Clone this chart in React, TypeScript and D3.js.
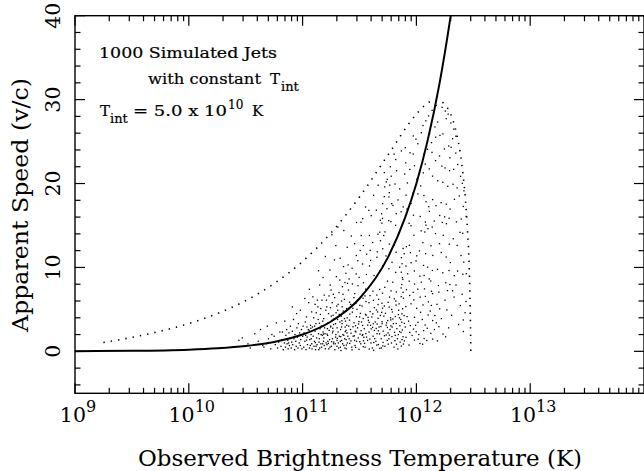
import React from "react";
import * as d3 from "d3";

const W = 644;
const H = 471;
const PLOT = { left: 75, right: 644, top: 15.7, bottom: 393.3 };

// axis definitions
const xDomain: [number, number] = [1e9, 1e14];
const yDomain: [number, number] = [-5, 40];
const xTickExponents = [9, 10, 11, 12, 13];
const yTickValues = [0, 10, 20, 30, 40];
const xLabel = "Observed Brightness Temperature (K)";
const yLabel = "Apparent Speed (v/c)";

// solid curve: [log10 T (K), apparent speed]
const curveLogT = [9.0, 9.5, 10.0, 10.25, 10.5, 10.75, 11.0, 11.25, 11.5, 11.75, 11.9, 12.0, 12.1, 12.2, 12.3, 12.33];
const curveSpeed = [0.02, 0.06, 0.2, 0.36, 0.63, 1.12, 2.0, 3.56, 6.3, 11.2, 15.9, 20.0, 25.2, 31.7, 39.9, 42.7];

// dotted envelope: [log10 T (K), apparent speed]
const envelopeLogT = [9.25, 9.5, 9.75, 10.0, 10.25, 10.5, 10.75, 11.0, 11.25, 11.5, 11.75, 12.0, 12.1, 12.15, 12.2, 12.25, 12.3, 12.35, 12.4, 12.43, 12.45, 12.465, 12.475, 12.478];
const envelopeSpeed = [1.06, 1.67, 2.4, 3.31, 4.49, 6.04, 8.08, 10.72, 14.13, 18.4, 23.4, 28.27, 29.6, 29.9, 29.9, 29.4, 28.3, 26.1, 22.2, 18.2, 14.2, 9.6, 3.3, 0];

// simulated jets: [log10 T (K), apparent speed]
const jets: [number, number][] = [
  [10.44,1.3],[10.47,1.6],[10.52,0.9],[10.54,0.4],[10.58,2.1],[10.61,1.2],[10.63,2.6],[10.65,0.7],[10.66,0.5],[10.68,0.9],[10.69,3.0],[10.70,1.5],[10.72,0.3],[10.73,2.0],[10.75,1.8],[10.76,0.8],[10.77,3.4],[10.78,0.4],[10.79,1.1],[10.80,2.3],
  [10.81,0.6],[10.82,1.4],[10.823,2.3],[10.83,0.2],[10.84,1.0],[10.843,3.6],[10.85,0.5],[10.853,1.9],[10.86,2.6],[10.864,0.9],[10.87,1.3],[10.873,0.3],[10.88,2.2],[10.884,0.7],[10.89,1.6],[10.893,3.0],[10.90,0.4],[10.904,1.1],[10.91,2.4],[10.913,0.8],[10.92,3.8],[10.924,1.5],[10.93,0.2],[10.933,2.0],[10.94,1.2],[10.944,0.6],[10.95,2.8],[10.954,1.7],[10.96,0.4],[10.963,3.3],[10.97,1.0],[10.974,2.2],[10.98,0.7],[10.983,1.4],[10.99,2.6],[10.994,0.3],[11.00,1.8],[11.004,3.0],[10.947,4.5],[10.877,1.0],
  [11.01,0.5],[11.013,2.2],[11.02,1.2],[11.024,3.5],[11.03,0.2],[11.034,4.1],[11.04,1.7],[11.043,0.8],[11.05,2.6],[11.054,5.8],[11.06,0.4],[11.063,1.4],[11.07,3.1],[11.074,2.0],[11.08,0.9],[11.083,0.3],[11.09,6.5],[11.093,1.8],[11.087,2.9],[11.10,0.6],[11.104,1.2],[11.097,4.0],[11.11,2.4],[11.114,0.2],[11.12,4.6],[11.123,1.6],[11.117,3.3],[11.13,6.1],[11.134,5.3],[11.127,0.8],[11.14,2.1],[11.144,1.1],[11.137,3.8],[11.15,0.4],[11.153,2.7],[11.147,1.5],[11.16,0.9],[11.164,3.0],[11.157,4.4],[11.17,6.1],[11.173,1.9],[11.167,0.5],[11.18,2.3],[11.184,1.2],[11.177,3.6],[11.19,0.7],[11.193,2.8],[11.187,1.6],[11.20,0.3],[11.204,4.9],[11.197,2.1],[11.21,6.1],[11.213,5.3],[11.207,1.0],[11.106,3.0],[11.057,2.5],[11.027,1.9],[11.077,1.5],[11.118,0.6],[11.162,2.0],[11.186,3.9],[11.142,0.2],[11.038,2.9],[11.068,0.7],[11.176,0.9],
  [11.214,0.8],[11.22,1.9],[11.224,3.4],[11.23,0.3],[11.233,2.5],[11.24,9.7],[11.243,7.9],[11.237,1.4],[11.25,7.3],[11.254,0.6],[11.247,3.0],[11.26,5.8],[11.263,2.2],[11.257,13.9],[11.27,6.8],[11.274,1.1],[11.267,2.4],[11.28,10.9],[11.283,0.2],[11.277,3.9],[11.29,1.7],[11.294,4.6],[11.287,0.9],[11.30,5.4],[11.303,2.8],[11.297,8.9],[11.31,14.8],[11.314,1.0],[11.307,3.8],[11.32,7.0],[11.323,1.8],[11.317,0.4],[11.33,11.1],[11.334,2.6],[11.327,8.5],[11.34,4.2],[11.343,1.3],[11.337,0.1],[11.35,7.7],[11.354,2.0],[11.347,3.3],[11.36,10.1],[11.363,0.7],[11.357,4.8],[11.37,1.5],[11.374,2.9],[11.367,6.2],[11.38,9.3],[11.383,0.3],[11.377,3.6],[11.39,2.2],[11.394,1.0],[11.387,5.1],[11.40,10.3],[11.403,7.3],[11.397,1.8],[11.405,3.0],[11.222,1.2],[11.228,4.5],[11.241,0.5],[11.262,1.5],[11.272,3.2],[11.292,2.0],[11.302,0.6],[11.312,2.3],[11.322,4.4],[11.332,1.2],[11.342,2.9],[11.352,0.9],[11.362,1.9],[11.372,0.4],[11.382,2.5],[11.392,4.0],[11.252,4.2],[11.282,6.4],[11.312,5.6],[11.342,6.0],[11.372,8.2],[11.392,12.4],[11.292,12.6],[11.362,14.4],[11.232,6.6],[11.332,0.5],[11.272,0.9],[11.302,1.3],[11.382,1.4],
  [11.683,15.62],[11.702,15.84],[11.757,15.58],[11.823,16.41],[11.866,16.63],[11.794,17.38],[11.838,18.04],[11.884,17.21],[11.917,16.96],[11.953,17.62],[11.968,18.83],[12.013,18.76],[12.066,18.57],[12.085,17.83],[12.108,17.24],[12.143,18.08],[12.172,17.36],[12.217,17.72],[12.263,17.54],[12.296,16.95],[12.334,18.12],[12.377,18.52],[12.412,17.27],[12.437,16.08],[12.394,15.77],[12.352,15.43],[12.287,15.86],[12.248,16.03],[12.205,16.19],[12.157,15.53],[12.079,15.41],[12.034,16.07],[11.974,16.22],[12.114,16.68],[11.936,15.26],[11.909,18.61],[11.853,19.36],[11.812,19.94],[11.779,20.87],[11.826,21.52],[11.897,21.13],[11.942,21.68],[11.983,22.12],[11.906,22.47],[11.944,23.66],[11.972,23.51],[11.902,24.27],[11.868,23.88],[11.818,22.86],[12.012,24.74],[11.996,25.28],[11.973,25.67],[12.043,26.06],[12.058,26.91],[12.083,27.47],[12.107,28.06],[12.138,28.72],[12.174,29.31],[12.226,29.08],[12.254,28.64],[12.279,28.27],[12.262,27.73],[12.303,27.22],[12.328,26.48],[12.347,25.63],[12.318,25.34],[12.284,24.47],[12.246,24.12],[12.203,23.29],[12.168,22.73],[12.224,22.08],[12.252,21.86],[12.291,21.53],[12.327,21.69],[12.363,22.27],[12.388,20.86],[12.418,19.13],[12.404,20.02],[12.358,19.48],[12.322,19.91],[12.276,19.67],[12.232,20.14],[12.187,20.33],[12.142,20.88],[12.113,21.74],[12.078,22.31],[12.061,21.27],[12.069,23.56],[12.097,24.08],[12.133,24.87],[12.169,25.52],[12.207,25.73],[12.233,25.91],[12.163,26.74],[12.186,27.33],[12.116,25.94],[12.137,23.71],[12.294,23.07],[12.346,23.63],[12.305,24.31],[11.921,20.07],[12.038,19.71],[12.004,20.52],[11.762,18.91],[11.718,18.44],[11.648,16.82],[11.603,16.17],[11.528,15.81],[11.474,15.36],
  [11.513,15.38],[11.697,15.27],[11.776,15.46],[11.817,15.02],[11.724,14.23],[11.843,14.02],[11.587,13.81],[11.662,13.96],[11.684,13.18],[11.457,12.83],[11.534,12.61],[11.616,12.97],[11.763,12.78],[11.807,12.66],[11.428,13.74],[11.472,11.42],[11.506,12.02],[11.563,11.58],[11.598,10.84],[11.653,11.21],[11.594,12.03],[11.657,11.86],[11.704,12.23],[11.733,11.37],[11.822,11.81],[11.868,11.16],[11.786,10.62],[11.853,10.03],[11.758,9.84],[11.818,9.41],[11.877,8.78],[11.872,7.96],[11.792,8.24],[11.746,8.37],[11.722,7.63],[11.777,7.21],[11.824,7.08],[11.867,6.52],[11.764,6.47],[11.702,6.93],[11.677,7.38],[11.652,6.71],[11.618,7.17],[11.592,6.64],[11.557,5.93],[11.531,6.33],[11.503,5.48],[11.468,5.71],[11.442,5.12],[11.413,5.86],[11.409,8.62],[11.438,8.03],[11.471,9.22],[11.497,8.81],[11.535,8.17],[11.561,9.16],[11.458,6.88],[11.487,7.82],[11.554,7.42],[11.604,7.97],[11.628,9.04],[11.681,9.58],[11.706,10.22],[11.588,10.18],[11.527,10.41],
  [11.412,3.72],[11.437,4.67],[11.473,4.13],[11.508,4.52],[11.532,3.91],[11.558,4.31],[11.593,4.74],[11.617,4.46],[11.649,4.93],[11.683,4.28],[11.703,5.14],[11.728,4.53],[11.761,5.27],[11.789,4.69],[11.821,5.52],[11.848,5.66],[11.879,5.08],[11.842,4.37],[11.793,3.86],[11.748,3.67],[11.698,3.53],[11.663,3.94],[11.621,3.28],[11.572,3.13],[11.527,3.08],[11.492,3.26],[11.443,2.93],[11.426,2.16],[11.469,2.31],[11.514,2.47],[11.556,2.12],[11.602,2.68],[11.647,2.73],[11.688,2.96],[11.734,3.11],[11.776,3.04],[11.823,3.32],[11.871,3.47],[11.852,2.36],[11.808,2.27],[11.763,1.93],[11.719,1.86],[11.676,2.07],[11.633,1.52],[11.591,1.46],[11.538,1.68],[11.502,1.14],[11.457,1.33],[11.414,0.94],[11.466,0.47],[11.533,0.56],[11.586,0.27],[11.652,0.74],[11.707,1.06],[11.753,0.86],[11.812,1.27],[11.868,0.63],[11.883,1.74],[11.624,0.13],[11.434,0.18],[11.496,0.24],[11.678,0.36],[11.837,0.28],[11.883,7.04],[11.892,4.26],[11.752,5.84],[11.697,5.73],[11.663,5.58],[11.622,6.08],[11.806,6.26],
  [11.953,14.96],[12.084,15.04],[12.102,14.62],[12.139,14.81],[12.228,15.36],[12.264,15.21],[12.383,14.18],[12.407,14.07],[12.236,13.83],[12.168,14.03],[12.042,14.36],[12.074,14.22],[11.978,13.84],[11.938,12.64],[12.057,12.96],[12.128,12.58],[12.203,12.83],[12.289,12.77],[12.324,13.42],[12.358,12.62],[11.883,12.26],[11.912,12.47],[11.893,11.63],[11.948,11.76],[12.003,11.38],[12.027,11.97],[12.081,11.64],[12.144,11.43],[12.218,11.78],[12.262,11.24],[12.298,10.58],[12.392,11.42],[12.416,10.63],[11.874,10.44],[11.908,10.16],[11.954,10.56],[11.997,10.78],[12.063,10.24],[12.098,10.03],[12.141,9.64],[12.186,9.77],[12.232,9.36],[12.287,9.63],[12.333,9.02],[12.362,9.57],[12.408,9.18],[12.438,9.26],[11.868,9.43],[11.923,9.24],[11.982,9.58],[12.031,8.96],[12.068,9.04],[12.113,8.63],[11.881,8.57],[11.937,8.36],[11.984,8.02],[12.043,8.24],[12.126,8.38],[12.193,7.84],[12.258,8.17],[12.294,7.96],[12.318,7.22],[11.866,7.56],[11.913,7.36],[11.972,7.03],[12.012,7.41],[12.071,7.44],[12.133,7.16],[12.197,7.06],[12.273,7.24],[12.331,6.47],[12.386,5.46],[12.436,5.94],[11.886,6.33],[11.941,6.66],[11.977,6.13],[12.033,6.46],[12.079,6.54],[12.142,6.87],[11.907,5.34],[11.953,5.67],[12.002,5.13],[12.058,5.53],[12.131,5.47],[12.204,5.06],[12.268,4.94],[11.873,4.47],[11.918,4.14],[11.983,4.06],[12.037,4.66],[12.103,4.33],[12.162,4.27],[12.412,3.74],[11.894,3.33],[11.946,3.07],[12.014,3.46],[12.077,3.13],[12.143,3.67],[12.198,2.94],[11.877,2.54],[11.942,2.26],[11.998,2.33],[12.064,2.47],[12.127,2.14],[12.234,2.06],[12.257,1.73],[12.413,2.36],[11.909,1.67],[11.983,1.34],[12.068,1.53],[12.143,1.46],[12.031,0.94],[11.886,0.87],
  [11.678,14.2],[11.713,13.8],[11.694,16.4],[11.741,17.0],[11.783,17.6],[11.758,18.4],[11.722,19.6],[11.766,19.8],[11.736,20.2],[11.553,17.2],[11.624,18.6],[11.664,19.8],[11.744,20.5],[11.703,17.6],[11.582,16.8],[11.771,22.0],[11.804,23.5],[11.718,21.3],
  [11.421,2.6],[11.444,1.8],[11.452,3.4],[11.461,0.7],[11.483,2.8],[11.489,1.6],[11.501,4.1],[11.511,0.9],[11.518,3.5],[11.524,1.9],[11.542,2.7],[11.549,0.5],[11.553,4.4],[11.571,1.3],[11.578,3.7],[11.584,2.3],[11.601,1.0],[11.608,4.1],[11.613,0.4],[11.631,2.5],[11.638,3.5],[11.644,1.2],[11.659,4.7],[11.666,0.8],[11.672,2.9],[11.691,1.5],[11.708,2.4],[11.714,4.2],[11.723,0.6],[11.738,3.4],[11.744,1.3],[11.768,2.6],[11.773,4.0],[11.781,1.0],[11.798,3.3],[11.803,0.5],[11.828,2.7],[11.833,1.5],[11.844,4.9],[11.857,1.1],[11.863,3.8],[11.423,5.6],[11.451,6.4],[11.478,5.0],[11.522,5.4],[11.548,6.6],[11.583,5.8],[11.631,5.2],[11.668,6.2],[11.718,5.4],[11.783,5.0],[11.819,6.0],[11.851,4.0],[11.432,0.5],[11.474,1.2],[11.562,1.7],[11.619,1.8],[11.692,0.4],[11.758,1.5],[11.814,1.9],[11.309,4.9],[11.328,3.5],[11.268,4.3],[11.246,2.9],[11.218,2.7],[11.348,5.3],[11.368,3.9],[11.289,3.3],[11.258,3.7],[11.388,3.1],[11.409,1.5],[11.463,2.4],[11.529,2.0],[11.597,3.1],[11.654,2.1],[11.699,3.3],[11.751,2.2],[11.787,2.9],[11.841,2.0],[11.874,1.4],[11.902,2.9],[11.931,3.6],[11.962,1.9],[11.993,3.1],[12.021,2.0],[12.052,3.8],[12.091,1.3],[12.122,4.8],[12.158,2.6],[12.181,5.6],[12.219,3.9],[12.251,6.1],[12.309,4.3],[12.348,7.9],[12.371,3.2],[12.402,6.8],[12.428,4.6],[12.283,2.8],
  [10.98,4.9],[11.02,6.3],[11.06,7.4],[11.11,5.6],[11.15,7.9],[11.18,8.8],[11.19,6.7],[11.08,4.7],[11.14,9.6],[11.20,11.3],[11.16,5.1],[10.91,5.3],
  [11.035,1.35],[11.072,2.75],[11.112,1.05],[11.148,3.35],[11.183,2.05],[11.226,0.95],[11.265,2.75],[11.305,1.55],[11.345,3.65],[11.385,0.75],[11.425,1.25],[11.465,3.05],[11.505,2.05],[11.545,0.95],[11.585,3.45],[11.625,1.05],[11.665,2.45],[11.705,0.65],[11.745,2.85],[11.785,1.75],[11.825,0.85],[11.865,2.25],[11.215,2.05],[11.255,1.15],[11.295,3.95],[11.335,1.75],[11.375,2.35],[11.415,4.45],[11.455,1.85],[11.495,3.55],[11.535,1.25],[11.575,4.05],[11.615,2.85],[11.655,3.25],[11.695,4.65],[11.735,1.95],[11.775,3.75],[11.815,4.15],[11.855,3.05],[11.895,1.25],[11.935,0.75],[11.975,2.65],[12.015,1.45],[12.055,0.85],[12.095,2.75],[12.185,1.25],[12.105,5.9],[12.175,3.4],[11.245,5.2],[11.355,6.8],[11.435,9.9],[11.485,10.8],[11.515,13.8],[11.395,8.1]
];

const FONT = "'DejaVu Serif', serif";

export default function App() {
  const x = d3.scaleLog().domain(xDomain).range([PLOT.left, PLOT.right]);
  const y = d3.scaleLinear().domain(yDomain).range([PLOT.bottom, PLOT.top]);

  const line = d3
    .line<[number, number]>()
    .x((d) => x(Math.pow(10, d[0])))
    .y((d) => y(d[1]))
    .curve(d3.curveMonotoneX);

  const curvePts = curveLogT.map((t, i) => [t, curveSpeed[i]] as [number, number]);
  const envPts = envelopeLogT.map((t, i) => [t, envelopeSpeed[i]] as [number, number]);

  const xMinor: number[] = [];
  xTickExponents.forEach((e) => {
    for (let m = 2; m <= 9; m++) xMinor.push(m * Math.pow(10, e));
  });
  const yMinor = d3.range(-4, 41, 2).filter((v) => v % 10 !== 0);

  const MAJ = 10;
  const MIN = 5.5;

  return (
    <div style={{ position: "absolute", left: 0, top: 0 }}>
      <svg width={W} height={H} style={{ display: "block", background: "#fff" }}>
        <defs>
          <clipPath id="plotclip">
            <rect x={PLOT.left} y={PLOT.top} width={PLOT.right - PLOT.left} height={PLOT.bottom - PLOT.top} />
          </clipPath>
        </defs>

        {/* scatter */}
        <g fill="#000">
          {jets.map((d, i) => (
            <rect key={i} x={x(Math.pow(10, d[0])) - 0.65} y={y(d[1]) - 0.65} width={1.3} height={1.3} />
          ))}
        </g>

        {/* envelope */}
        <path d={line(envPts) || ""} fill="none" stroke="#000" strokeWidth={1.6} strokeDasharray="1.4 6" clipPath="url(#plotclip)" />

        {/* solid curve */}
        <path d={line(curvePts) || ""} fill="none" stroke="#000" strokeWidth={2} clipPath="url(#plotclip)" />

        {/* frame */}
        <rect x={PLOT.left} y={PLOT.top} width={PLOT.right - PLOT.left} height={PLOT.bottom - PLOT.top} fill="none" stroke="#000" strokeWidth={1.4} />

        {/* ticks */}
        <g stroke="#000" strokeWidth={1.2}>
          {xTickExponents.map((e) => {
            const px = x(Math.pow(10, e));
            return (
              <g key={"xm" + e}>
                <line x1={px} x2={px} y1={PLOT.bottom} y2={PLOT.bottom - MAJ} />
                <line x1={px} x2={px} y1={PLOT.top} y2={PLOT.top + MAJ} />
              </g>
            );
          })}
          {xMinor.map((v, i) => {
            const px = x(v);
            return (
              <g key={"xn" + i}>
                <line x1={px} x2={px} y1={PLOT.bottom} y2={PLOT.bottom - MIN} />
                <line x1={px} x2={px} y1={PLOT.top} y2={PLOT.top + MIN} />
              </g>
            );
          })}
          {yTickValues.map((v) => {
            const py = y(v);
            return (
              <g key={"ym" + v}>
                <line x1={PLOT.left} x2={PLOT.left + MAJ} y1={py} y2={py} />
                <line x1={PLOT.right} x2={PLOT.right - MAJ} y1={py} y2={py} />
              </g>
            );
          })}
          {yMinor.map((v) => {
            const py = y(v);
            return (
              <g key={"yn" + v}>
                <line x1={PLOT.left} x2={PLOT.left + MIN} y1={py} y2={py} />
                <line x1={PLOT.right} x2={PLOT.right - MIN} y1={py} y2={py} />
              </g>
            );
          })}
        </g>

        {/* x tick labels */}
        <g fontFamily={FONT} fill="#000">
          {xTickExponents.map((e) => (
            <text key={"xl" + e} x={x(Math.pow(10, e)) + 3} y={422} textAnchor="middle" fontSize={20.5}>
              10
              <tspan dy={-10} fontSize={16}>
                {e}
              </tspan>
            </text>
          ))}
        </g>

        {/* y tick labels (rotated) */}
        <g fontFamily={FONT} fill="#000">
          {yTickValues.map((v) => (
            <text key={"yl" + v} transform={`translate(60,${y(v)}) rotate(-90)`} textAnchor="middle" fontSize={20.5}>
              {v}
            </text>
          ))}
        </g>

        {/* axis titles */}
        <text x={360} y={466} textAnchor="middle" fontFamily={FONT} fontSize={22} textLength={444} lengthAdjust="spacingAndGlyphs">
          {xLabel}
        </text>
        <text transform="translate(28,205) rotate(-90)" textAnchor="middle" fontFamily={FONT} fontSize={22} textLength={254} lengthAdjust="spacingAndGlyphs">
          {yLabel}
        </text>

        {/* annotations */}
        <g fontFamily={FONT} fill="#000" stroke="#000" strokeWidth={0.2}>
          <text x={99} y={58} fontSize={15} textLength={178} lengthAdjust="spacingAndGlyphs">1000 Simulated Jets</text>
          <text x={148} y={84} fontSize={15} textLength={113} lengthAdjust="spacingAndGlyphs">with constant</text>
          <text x={270} y={84} fontSize={15}>T</text>
          <text x={281} y={90.5} fontSize={13}>int</text>
          <text x={100} y={115.7} fontSize={15}>T</text>
          <text x={110} y={122.5} fontSize={13}>int</text>
          <text x={133} y={115.7} fontSize={15} textLength={94} lengthAdjust="spacingAndGlyphs">= 5.0 x 10</text>
          <text x={228} y={109} fontSize={12}>10</text>
          <text x={252} y={115.7} fontSize={15}>K</text>
        </g>
      </svg>
    </div>
  );
}
